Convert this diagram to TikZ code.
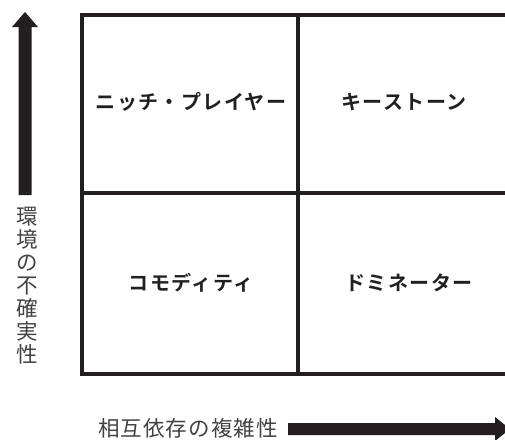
\documentclass[tikz,border=0pt]{standalone}
\usepackage{fontspec}
\newfontfamily\cjk{Noto Sans CJK JP}
\newfontfamily\cjkbold{Noto Sans CJK JP Bold}
\definecolor{ink}{HTML}{231F20}
\begin{document}
\begin{tikzpicture}[x=1pt,y=-1pt,
  gridline/.style={draw=ink,line width=4pt},
  celltext/.style={font=\cjkbold\fontsize{20}{22}\selectfont\addfontfeature{LetterSpace=7},text=ink,inner sep=0pt},
  axistext/.style={font=\cjk\fontsize{21.5}{23}\selectfont,text=ink!85,inner sep=0pt},
  bigarrow/.style={fill=ink}]
\useasboundingbox (0,0) rectangle (505,439);
\clip (0,0) rectangle (505,439);
% grid
\coordinate (tl) at (82,15);
\coordinate (br) at (514,374);
\draw[gridline] (tl) rectangle (br);
\draw[gridline] (298,15) -- (298,374);
\draw[gridline] (82,193) -- (514,193);
% cell labels
\node[celltext] (np) at (191,102) {ニッチ・プレイヤー};
\node[celltext] (ks) at (404,102) {キーストーン};
\node[celltext] (cm) at (191,283) {コモディティ};
\node[celltext] (dm) at (409,283) {ドミネーター};
% vertical arrow
\fill[bigarrow] (18.5,195) -- (31.5,195) -- (31.5,27) -- (38,27) -- (25,12) -- (12,27) -- (18.5,27) -- cycle;
\node[axistext,align=center] (vt) at (27,286) {環\\境\\の\\不\\確\\実\\性};
% horizontal arrow
\fill[bigarrow] (288,423) -- (495,423) -- (495,417) -- (510,429) -- (495,441) -- (495,435) -- (288,435) -- cycle;
\node[axistext,anchor=west,font=\cjk\fontsize{21.5}{23}\selectfont\addfontfeature{LetterSpace=5}] (ht) at (98,428) {相互依存の複雑性};
\end{tikzpicture}
\end{document}
